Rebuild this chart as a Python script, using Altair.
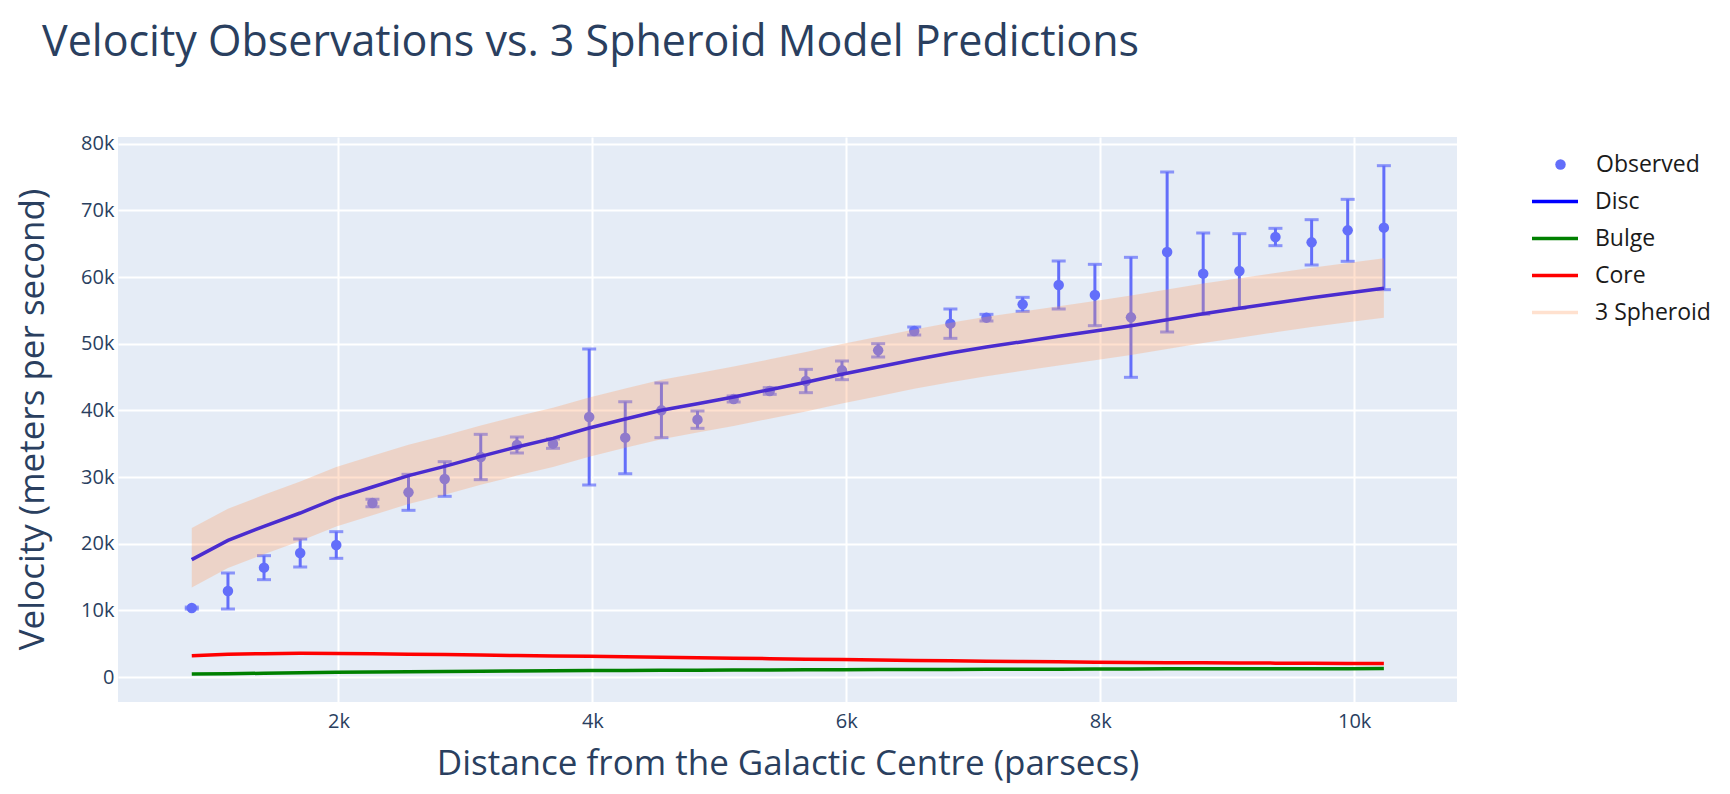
import altair as alt
import pandas as pd

# ---- data ----
distance = [845, 1130, 1414, 1699, 1983, 2268, 2552, 2837, 3121, 3406, 3690, 3975,
            4259, 4544, 4828, 5113, 5397, 5682, 5966, 6251, 6535, 6820, 7104, 7389,
            7673, 7958, 8242, 8527, 8811, 9096, 9380, 9665, 9949, 10234]
observed = [10340, 12900, 16400, 18600, 19800, 26100, 27700, 29700, 33000, 34800,
            35000, 39000, 35900, 40000, 38600, 41700, 42900, 44400, 46000, 49000,
            51900, 53000, 53900, 55900, 58800, 57300, 53950, 63750, 60500, 60900,
            66000, 65200, 67000, 67400]
observed_err = [150, 2700, 1800, 2100, 2000, 550, 2700, 2600, 3400, 1200, 700, 10200,
                5400, 4100, 1300, 450, 500, 1750, 1400, 1000, 600, 2200, 500, 1050,
                3600, 4600, 9000, 12000, 6100, 5600, 1300, 3400, 4650, 9300]
disc = [17600, 20500, 22600, 24600, 26800, 28500, 30200, 31600, 33100, 34500, 35800,
        37350, 38700, 40000, 41000, 42000, 43100, 44200, 45400, 46500, 47600, 48600,
        49500, 50300, 51100, 51900, 52700, 53600, 54500, 55300, 56100, 56900, 57600, 58300]
bulge = [450, 500, 560, 630, 700, 740, 780, 820, 860, 890, 930, 960, 980, 1000, 1020,
         1040, 1060, 1080, 1100, 1110, 1130, 1140, 1160, 1170, 1180, 1200, 1210, 1220,
         1230, 1230, 1240, 1250, 1250, 1260]
core = [3200, 3400, 3500, 3550, 3520, 3480, 3420, 3360, 3290, 3220, 3160, 3100, 3030,
        2960, 2890, 2820, 2750, 2680, 2610, 2550, 2490, 2440, 2380, 2320, 2270, 2210,
        2180, 2150, 2130, 2100, 2080, 2060, 2040, 2020]
spheroid = [17890, 20790, 22880, 24860, 27040, 28720, 30400, 31790, 33270, 34660, 35950,
            37490, 38830, 40120, 41110, 42110, 43200, 44290, 45490, 46580, 47680, 48670,
            49570, 50370, 51160, 51960, 52760, 53660, 54560, 55350, 56150, 56950, 57650, 58350]
spheroid_halfwidth = 4450

x_ticks = [2000, 4000, 6000, 8000, 10000]
y_ticks = [0, 10000, 20000, 30000, 40000, 50000, 60000, 70000, 80000]

series_names = ["Disc", "Bulge", "Core", "3 Spheroid"]
series_colors = ["#0000ff", "#008000", "#ff0000", "#ffe1cf"]

df = pd.DataFrame({
    "distance": distance, "observed": observed, "err": observed_err,
    "Disc": disc, "Bulge": bulge, "Core": core, "spheroid": spheroid,
})
df["lo"] = df["observed"] - df["err"]
df["hi"] = df["observed"] + df["err"]
df["band_lo"] = df["spheroid"] - spheroid_halfwidth
df["band_hi"] = df["spheroid"] + spheroid_halfwidth
df["label"] = "Observed"

lines_df = df.melt(id_vars=["distance"], value_vars=["Disc", "Bulge", "Core"],
                   var_name="series", value_name="velocity")

TXT = "#2a3f5f"
XT = "Distance from the Galactic Centre (parsecs)"
YT = "Velocity (meters per second)"
KFMT = "datum.value == 0 ? '0' : format(datum.value / 1000, 'd') + 'k'"

xscale = alt.Scale(domain=[264, 10810], nice=False, zero=False)
yscale = alt.Scale(domain=[-3750, 81000], nice=False, zero=False)
xaxis = alt.Axis(values=x_ticks, labelExpr=KFMT, title=XT, labelPadding=9, titleY=44)
yaxis = alt.Axis(values=y_ticks, labelExpr=KFMT, title=YT, labelPadding=4,
                 titleX=-68, titleY=282)


def X(field="distance:Q"):
    return alt.X(field, scale=xscale, axis=xaxis, title=XT)


def Y(field):
    return alt.Y(field, scale=yscale, axis=yaxis, title=YT)


zero = alt.Chart(df).mark_rule(color="white", strokeWidth=3).encode(
    x=X(), y=Y("zero:Q")
).transform_calculate(zero="0")

errbars = alt.Chart(df).mark_errorbar(ticks=True, size=14, thickness=3, color="#636efa").encode(
    x=X(), y=Y("lo:Q"), y2=alt.Y2("hi:Q")
)

points = alt.Chart(df).mark_circle(size=110, opacity=1).encode(
    x=X(), y=Y("observed:Q"),
    fill=alt.Fill("label:N", scale=alt.Scale(domain=["Observed"], range=["#636efa"]),
                  legend=alt.Legend(title=None, orient="none", legendX=1431, legendY=9,
                                    symbolSize=110, labelOffset=24, clipHeight=37,
                                    labelFont="Open Sans", labelFontSize=23,
                                    labelColor="#1a1a1a", padding=0))
)

lines = alt.Chart(lines_df).mark_line(strokeWidth=3.5).encode(
    x=X(), y=Y("velocity:Q"),
    stroke=alt.Stroke("series:N", scale=alt.Scale(domain=series_names, range=series_colors),
                      sort=series_names,
                      legend=alt.Legend(title=None, orient="none", legendX=1412, legendY=46,
                                        symbolSize=2116, symbolStrokeWidth=3.5,
                                        clipHeight=37, labelOffset=15,
                                        labelFont="Open Sans", labelFontSize=23,
                                        labelColor="#1a1a1a", padding=0, rowPadding=0))
)

band = alt.Chart(df).mark_area(color="#ff965a", opacity=0.29).encode(
    x=X(), y=Y("band_lo:Q"), y2=alt.Y2("band_hi:Q")
)

chart = alt.layer(zero, errbars, points, lines, band).properties(
    width=1339, height=565,
    padding={"left": 110, "top": 129, "right": 265, "bottom": 84},
    autosize=alt.AutoSizeParams(type="none"),
    title=alt.TitleParams(
        "Velocity Observations vs. 3 Spheroid Model Predictions",
        anchor="start", frame="group", dx=-76, offset=35, baseline="alphabetic",
        font="Open Sans", fontSize=43, fontWeight="normal", color=TXT,
    ),
).configure_view(
    fill="#E5ECF6", strokeWidth=0
).configure_axis(
    domain=False, ticks=False, tickSize=0, grid=True, gridColor="white", gridWidth=2,
    labelFont="Open Sans", labelFontSize=20, labelColor=TXT,
    titleFont="Open Sans", titleFontSize=35, titleColor=TXT, titleFontWeight="normal",
)

chart.save("out.html", embed_options={"renderer": "svg", "actions": False})
